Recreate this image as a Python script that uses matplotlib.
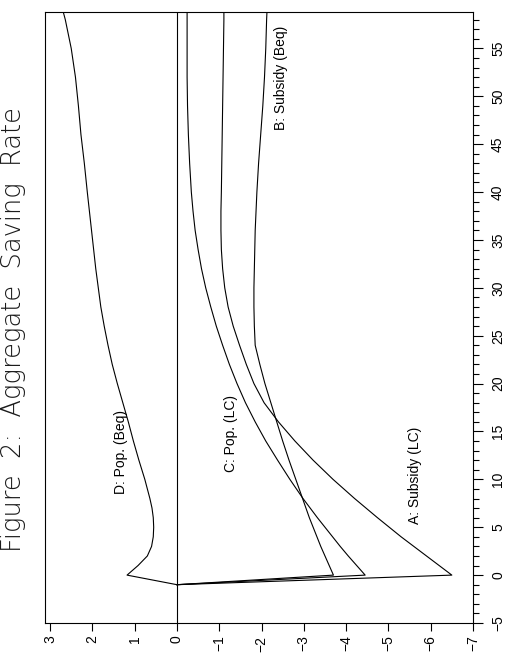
import numpy as np
import matplotlib.pyplot as plt
from matplotlib.ticker import MultipleLocator

# years after the policy change (the chart is printed rotated by 90 degrees)
years = [-1, 0, 1, 2, 3, 4, 5, 6, 7, 8, 10, 12, 14, 16, 18, 20, 22, 24, 26, 28,
         30, 32, 34, 36, 38, 40, 43, 46, 49, 52, 55, 58, 59]

# aggregate saving rate, deviation from baseline
subsidy_lc = [0, -6.50, -6.20, -5.90, -5.60, -5.30, -5.02, -4.74, -4.47, -4.20,
              -3.69, -3.22, -2.79, -2.40, -2.06, -1.82, -1.64, -1.48, -1.33, -1.21,
              -1.13, -1.08, -1.05, -1.04, -1.04, -1.05, -1.06, -1.07, -1.08, -1.09,
              -1.10, -1.11, -1.11]
subsidy_beq = [0, -3.70, -3.60, -3.50, -3.40, -3.31, -3.22, -3.13, -3.05, -2.97,
               -2.81, -2.65, -2.50, -2.36, -2.22, -2.08, -1.96, -1.85, -1.83, -1.82,
               -1.82, -1.83, -1.84, -1.85, -1.87, -1.89, -1.93, -1.98, -2.03, -2.07,
               -2.10, -2.12, -2.13]
pop_lc = [0, -4.45, -4.25, -4.05, -3.86, -3.68, -3.50, -3.32, -3.15, -2.98,
          -2.67, -2.38, -2.10, -1.85, -1.62, -1.42, -1.24, -1.08, -0.93, -0.80,
          -0.68, -0.58, -0.50, -0.43, -0.38, -0.34, -0.30, -0.27, -0.25, -0.24,
          -0.24, -0.24, -0.24]
pop_beq = [0, 1.18, 0.92, 0.70, 0.60, 0.56, 0.55, 0.56, 0.59, 0.64,
           0.76, 0.90, 1.03, 1.15, 1.28, 1.41, 1.53, 1.63, 1.72, 1.80,
           1.86, 1.92, 1.97, 2.02, 2.07, 2.12, 2.19, 2.27, 2.33, 2.40,
           2.50, 2.64, 2.70]

series = [subsidy_lc, subsidy_beq, pop_lc, pop_beq]
labels = ['A: Subsidy (LC)', 'B: Subsidy (Beq)', 'C: Pop. (LC)', 'D: Pop. (Beq)']
label_pos = [(-5.63, 10.4), (-2.45, 51.9), (-1.28, 14.8), (1.32, 12.9)]

plt.rcParams['font.family'] = ['Liberation Sans', 'DejaVu Sans']

fig = plt.figure(figsize=(5.1, 6.61), dpi=100)
ax = fig.add_axes([45/510, 38/661, 428/510, 611/661])

ax.axvline(0, color='black', lw=0.8)
for s in series:
    ax.plot(s, years, color='black', lw=0.8)

for lab, (v, t) in zip(labels, label_pos):
    ax.text(v, t, lab, rotation=90, ha='center', va='center', fontsize=10)

ax.set_xlim(3.12, -7.0)
ax.set_ylim(-5, 58.8)

ax.set_xticks(np.arange(-7, 4))
ax.yaxis.tick_right()
ax.set_yticks(np.arange(-5, 60, 5))
ax.yaxis.set_minor_locator(MultipleLocator(1))

ax.tick_params(axis='x', direction='out', length=6, width=0.8, pad=3,
               labelsize=10, labelrotation=90)
ax.tick_params(axis='y', which='major', direction='out', length=7, width=0.8,
               pad=6, labelsize=10, labelrotation=90)
ax.tick_params(axis='y', which='minor', direction='out', length=4, width=0.8)
for lbl in ax.get_yticklabels():
    lbl.set_verticalalignment('center')

for sp in ax.spines.values():
    sp.set_linewidth(0.8)

fig.text(0.026, 0.502, 'Figure  2:  Aggregate  Saving  Rate', rotation=90,
         ha='center', va='center', fontsize=18.5, family='DejaVu Sans',
         weight='light', color='#1a1a1a')

plt.savefig('out.png', dpi=100)
